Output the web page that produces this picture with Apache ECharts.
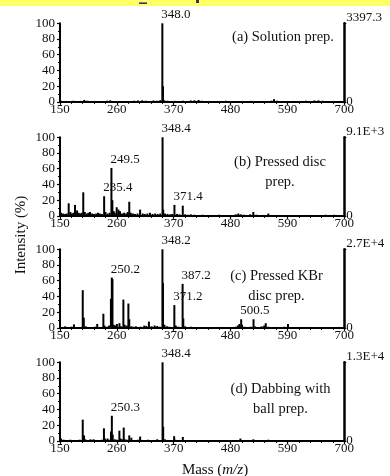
<!DOCTYPE html>
<html>
<head>
<meta charset="utf-8">
<script src="https://cdn.jsdelivr.net/npm/echarts@6/dist/echarts.min.js"></script>
<style>
html,body{margin:0;padding:0;background:#fff;}
#chart{width:390px;height:476px;}
</style>
</head>
<body>
<div id="chart"></div>
<script>
// ---- data: [mass (m/z), relative intensity (%)] ----
const massTickLabels = [150, 260, 370, 480, 590, 700];

const peaksA = [[152,1.5],[158,1],[163,1.2],[170,0.8],[176,1.5],[183,1],[190,1.3],[197,2.5],[203,1.5],[210,1],[218,1.2],[226,0.8],[233,1],[241,1.5],[247,2],[253,1.2],[262,1],[270,0.8],[278,1.2],[286,1],[293,1.5],[301,1.8],[309,2],[316,1.5],[324,1.2],[331,1.8],[338,1.5],[344,2.2],[348.0,100],[349.2,20],[352,2],[358,1.5],[364,1],[372,1.3],[380,1],[388,1.5],[396,1.2],[403,1.8],[410,2],[418,2.5],[424,1.5],[432,1],[440,1.2],[448,0.8],[455,1.2],[463,1],[471,1.5],[479,0.8],[487,1],[495,1.2],[503,0.8],[511,1],[519,1.3],[527,0.8],[535,1],[543,1.2],[551,1],[559,1.5],[564,3.5],[570,1.5],[578,1],[586,0.8],[594,1],[602,1.2],[610,0.8],[618,1],[626,1.5],[634,1.2],[642,1.8],[650,2],[658,1.5],[666,1],[674,0.8],[682,1],[690,1.2],[697,0.8]];

const peaksB = [[152,4],[156,3],[160,2.5],[163,3],[166.8,16],[170,5],[173,3],[176,4],[179,14],[183,7],[186,4],[189,3],[192,4],[195,30],[198,5],[202,3],[205,4],[208,5],[212,3],[216,2.5],[220,3],[223.6,4],[227,3],[231,2.5],[235.4,25],[238,5],[242,3],[246,4],[249.5,61],[251.3,20],[254,6],[256,4],[259.7,11],[263,8],[266,6],[270,3],[274,4],[278,3],[281,5],[284,18],[287,4],[291,3],[295,2.5],[300,3],[305,8],[310,3],[314,2.5],[319,3],[324,4],[329,2.5],[334,3],[339,2.5],[344,3],[348.4,100],[349.6,8],[353,3],[358,2.5],[363,2],[367,2.5],[371.4,14],[376,2.5],[381,2],[387.5,13],[392,2],[397,1.5],[403,2],[410,1.5],[418,1.2],[426,1.5],[434,1],[442,1.2],[450,1],[458,1.5],[466,1],[474,1.2],[482,1],[490,2],[495,3],[500,2],[506,1.5],[512,1.2],[518,2],[524,5],[530,1.5],[537,1],[545,1.2],[553,3],[560,1.2],[568,1],[576,1.2],[584,1],[592,0.8],[600,1],[608,0.8],[616,1],[624,1.2],[632,0.8],[640,1],[648,1.2],[656,1],[664,1.5],[672,1.2],[680,1.5],[688,1],[695,1.2]];

const peaksC = [[155,1],[160,2],[166,1],[172,1.5],[177,4.5],[182,1],[188,1],[194,48],[196,13],[200,2],[206,1],[212,1],[218,1.5],[222,5],[228,1],[233.9,18],[236,3],[241,1.5],[245,3],[248.5,37],[250.2,64],[251.5,62],[254,4],[257,3],[260,5],[265,6],[268,2],[272.6,36],[275,4],[279,3],[282.3,31],[284,11],[288,2],[292,1.5],[297,2],[302,1],[306,1.5],[313,3],[317,2.5],[322,8],[327,2],[333,3],[338,2.5],[343,1.5],[348.2,100],[349.2,57],[352,4],[357,2],[362,1.5],[366,1],[371.2,29],[374,3],[379,1.5],[383,1],[387.2,56],[388.5,12],[392,2],[397,1],[403,1.5],[410,1],[418,1.2],[426,0.8],[434,1],[442,0.8],[450,1],[458,1.2],[466,0.8],[474,1],[482,1.2],[490,1.5],[494,3],[497,5],[500.5,11],[502,4],[507,1.5],[513,1],[519,1.5],[524.4,11],[527,2],[533,1],[540,2],[545,3],[548,6],[553,1.5],[560,1],[568,1.2],[576,0.8],[584,1.5],[591,5],[596,1],[604,0.8],[612,1.2],[620,0.8],[628,1],[636,1.2],[644,0.8],[652,1],[660,0.8],[668,1],[676,0.8],[684,1],[692,0.8],[698,1]];

const peaksD = [[152,3],[157,1.5],[163,1],[170,1.5],[176,1.2],[182,1],[188,1.5],[194,27],[196.5,7],[199,2],[204,1],[209,2],[215,2],[220,1.2],[226,1],[231,1.5],[235,16],[237,3],[242,3],[246,1.5],[248.6,12],[250.3,32],[252,8],[256,2],[260,1.5],[264.9,13],[267,3],[270,2],[273.3,17],[276,2],[280,1.5],[284,7],[288,4],[292,1.2],[297,1],[301,1.5],[305,5.5],[309,1.2],[314,1],[320,1.5],[326,1],[332,1.2],[338,2],[343,1],[348.4,100],[349.6,18],[353,2],[358,1.2],[364,1],[370.8,6],[373,1.5],[378,1],[383,1.2],[387.6,5],[391,1],[397,0.8],[404,1],[412,0.8],[420,1],[428,0.8],[436,1],[444,0.8],[452,1],[460,0.8],[468,1],[476,0.8],[484,1],[492,1],[499,3],[505,1],[512,0.8],[520,1],[524,2],[530,0.8],[538,1],[546,0.8],[553,1.5],[560,0.8],[568,1],[576,0.8],[584,1],[592,0.8],[600,1],[608,0.8],[616,1],[624,0.8],[632,1],[640,0.8],[648,1],[656,0.8],[664,1],[672,0.8],[680,1],[688,0.8],[696,1]];

// labelled peaks (m/z)
const labelsA = [348.0];
const labelsB = [348.4, 249.5, 235.4, 371.4];
const labelsC = [348.2, 250.2, 371.2, 387.2, 500.5];
const labelsD = [348.4, 250.3];

// absolute intensity at 100 % (right axis)
const maxIntensity = ['3397.3', '9.1E+3', '2.7E+4', '1.3E+4'];

// panel captions
const captions = ['(a) Solution prep.', '(b) Pressed disc\nprep.', '(c) Pressed KBr\ndisc prep.', '(d) Dabbing with\nball prep.'];

// ---- chart ----
const FONT = "'Liberation Serif', 'Times New Roman', serif";
const TXT = '#111';
const MIN = 150;
const panels = [
  {peaks: peaksA, labels: labelsA},
  {peaks: peaksB, labels: labelsB},
  {peaks: peaksC, labels: labelsC},
  {peaks: peaksD, labels: labelsD}
];
const tops = [23.3, 137.3, 249.3, 362.3];
const H = 78.6;
const capPos = [[283, 37], [280, 172], [276.5, 286.5], [280.5, 399]];

const grid = [], xAxis = [], yAxis = [], series = [], graphic = [];

panels.forEach((p, i) => {
  grid.push({left: 60, width: 284.3, top: tops[i], height: H, containLabel: false});
  xAxis.push({
    type: 'value', gridIndex: i, min: 0, max: 550, interval: 110,
    axisLine: {show: true, onZero: false, lineStyle: {color: '#000', width: 2}},
    axisTick: {show: true, length: 3, lineStyle: {color: '#000', width: 1.2}},
    minorTick: {show: true, splitNumber: 5, length: 2, lineStyle: {color: '#000', width: 1}},
    splitLine: {show: false},
    axisLabel: {
      margin: 1, fontFamily: FONT, fontSize: 13, color: TXT,
      formatter: v => String(massTickLabels[Math.round(v / 110)])
    }
  });
  yAxis.push({
    type: 'value', gridIndex: i, min: 0, max: 100, interval: 20, position: 'left',
    axisLine: {show: true, lineStyle: {color: '#000', width: 2}},
    axisTick: {show: true, length: 3, lineStyle: {color: '#000', width: 1.2}},
    minorTick: {show: true, splitNumber: 2, length: 2, lineStyle: {color: '#000', width: 1}},
    splitLine: {show: false},
    axisLabel: {margin: 5, fontFamily: FONT, fontSize: 13, color: TXT}
  });
  yAxis.push({
    type: 'value', gridIndex: i, min: 0, max: 100, interval: 100, position: 'right',
    axisLine: {show: true, lineStyle: {color: '#000', width: 2.5}},
    axisTick: {show: true, length: 2, lineStyle: {color: '#000', width: 1.2}},
    splitLine: {show: false},
    axisLabel: {
      margin: 2, fontFamily: FONT, fontSize: 13, color: TXT,
      formatter: v => v === 100 ? '{t|' + maxIntensity[i] + '}' : '0',
      rich: {t: {fontFamily: FONT, fontSize: 13, color: TXT, padding: [0, 0, 11, 0]}}
    }
  });
  const data = p.peaks.map(([m, v]) => {
    const item = {value: [m - MIN, v]};
    if (p.labels.some(l => Math.abs(l - m) < 1e-6)) {
      item.label = {
        show: true, position: 'top', distance: 2, align: 'left',
        offset: [-1, 0],
        formatter: m.toFixed(1),
        fontFamily: FONT, fontSize: 13, color: TXT
      };
    }
    return item;
  });
  series.push({
    type: 'bar', xAxisIndex: i, yAxisIndex: i * 2, data: data,
    barWidth: 2, itemStyle: {color: '#000'}, silent: true, animation: false
  });
  graphic.push({
    type: 'text', x: capPos[i][0], y: capPos[i][1],
    style: {
      text: captions[i], fill: TXT, font: '14.5px ' + FONT,
      align: 'center', verticalAlign: 'middle', lineHeight: 20
    }
  });
});

graphic.push({type: 'rect', shape: {x: 0, y: 0, width: 390, height: 6}, style: {fill: '#ffff66'}, z: -1});
graphic.push({type: 'rect', shape: {x: 139, y: 2.5, width: 8, height: 1.3}, style: {fill: '#000080'}});
graphic.push({type: 'rect', shape: {x: 196, y: 0, width: 3, height: 3}, style: {fill: '#333355'}});
graphic.push({
  type: 'text', x: 21.5, y: 235, rotation: Math.PI / 2,
  style: {text: 'Intensity (%)', fill: TXT, font: '15px ' + FONT, align: 'center', verticalAlign: 'middle'}
});
graphic.push({
  type: 'text', x: 215, y: 470,
  style: {
    text: 'Mass ({i|m/z})', fill: TXT, font: '15px ' + FONT, align: 'center', verticalAlign: 'middle',
    rich: {i: {fontFamily: FONT, fontSize: 15, fontStyle: 'italic', fill: TXT}}
  }
});

const chart = echarts.init(document.getElementById('chart'), null, {renderer: 'canvas'});
chart.setOption({
  animation: false,
  backgroundColor: '#fff',
  grid, xAxis, yAxis, series, graphic
});
</script>
</body>
</html>
